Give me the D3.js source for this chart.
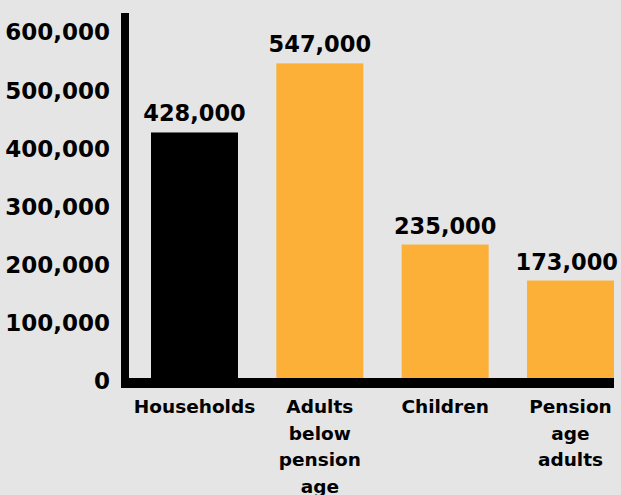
<!DOCTYPE html>
<html>
<head>
<meta charset="utf-8">
<script src="https://cdn.jsdelivr.net/npm/d3@7"></script>
<style>
  html, body { margin: 0; padding: 0; background: #e5e5e5; }
  svg { display: block; }
  text { font-family: "DejaVu Sans", sans-serif; font-weight: bold; fill: #000; }
</style>
</head>
<body>
<svg id="chart" width="621" height="495"></svg>
<script>
// Categories, values and their colours
const categories = ["Households", "Adults below pension age", "Children", "Pension age adults"];
const categoryLines = [["Households"], ["Adults", "below", "pension", "age"], ["Children"], ["Pension", "age", "adults"]];
const values = [428000, 547000, 235000, 173000];
const barColors = ["#000000", "#fdb038", "#fdb038", "#fdb038"];
const yTicks = [0, 100000, 200000, 300000, 400000, 500000, 600000];

const width = 621, height = 495;
const axisX = 125, axisY = 383, plotRight = 614, axisTop = 13;

const svg = d3.select("#chart");
svg.append("rect").attr("width", width).attr("height", height).attr("fill", "#e5e5e5");

const x = d3.scaleBand()
  .domain(categories)
  .range([151, plotRight])
  .paddingInner(0.306)
  .paddingOuter(0);

const y = d3.scaleLinear()
  .domain([0, 600000])
  .range([381, 32.6]);

const fmt = d3.format(",");

// Bars
svg.append("g")
  .selectAll("rect")
  .data(values)
  .join("rect")
  .attr("x", (d, i) => x(categories[i]))
  .attr("y", d => y(d))
  .attr("width", x.bandwidth())
  .attr("height", d => y(0) - y(d))
  .attr("fill", (d, i) => barColors[i]);

// Value labels above bars, kept inside the right edge
svg.append("g")
  .selectAll("text")
  .data(values)
  .join("text")
  .attr("y", d => y(d) - 11)
  .attr("text-anchor", "middle")
  .style("font-size", "22.5px")
  .text(d => fmt(d))
  .attr("x", function (d, i) {
    const cx = x(categories[i]) + x.bandwidth() / 2;
    const half = this.getComputedTextLength() / 2;
    return Math.min(cx, width - 3 - half);
  });

// Y axis tick labels
const yAxis = svg.append("g")
  .attr("transform", `translate(${axisX},0)`)
  .call(d3.axisLeft(y).tickValues(yTicks).tickSize(0).tickPadding(15).tickFormat(fmt));
yAxis.select(".domain").remove();
yAxis.selectAll("text")
  .attr("fill", "#000")
  .style("font-family", "'DejaVu Sans', sans-serif")
  .style("font-weight", "bold")
  .style("font-size", "23px");

// Heavy axis lines
svg.append("line")
  .attr("x1", axisX).attr("x2", axisX)
  .attr("y1", axisTop).attr("y2", axisY + 5)
  .attr("stroke", "#000").attr("stroke-width", 8);
svg.append("line")
  .attr("x1", axisX - 4).attr("x2", plotRight)
  .attr("y1", axisY).attr("y2", axisY)
  .attr("stroke", "#000").attr("stroke-width", 10);

// Category labels, wrapped onto several lines
const cat = svg.append("g")
  .selectAll("text")
  .data(categories)
  .join("text")
  .attr("text-anchor", "middle")
  .style("font-size", "18.5px")
  .attr("transform", d => `translate(${x(d) + x.bandwidth() / 2},413)`);
cat.selectAll("tspan")
  .data((d, i) => categoryLines[i])
  .join("tspan")
  .attr("x", 0)
  .attr("y", (d, j) => j * 26.5)
  .text(d => d);
</script>
</body>
</html>
